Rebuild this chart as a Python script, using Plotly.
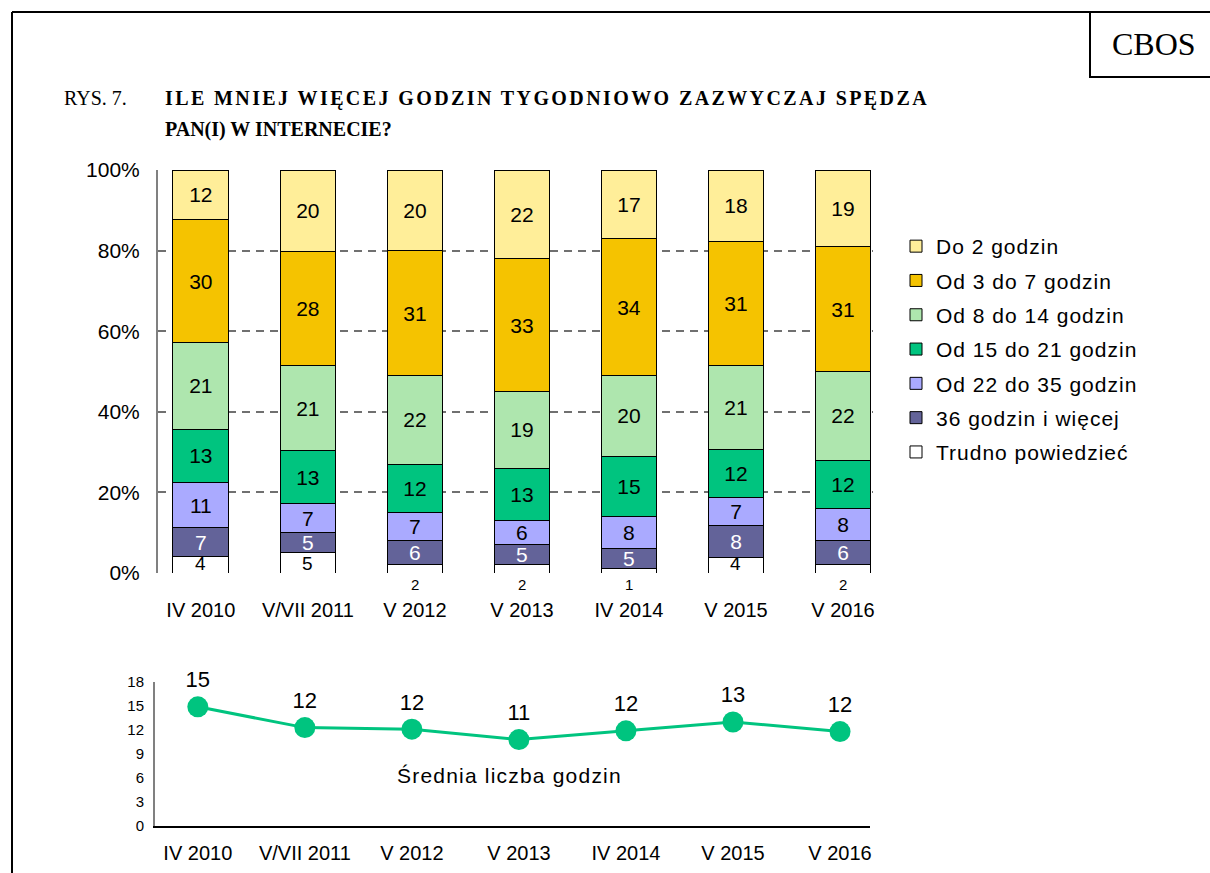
import plotly.graph_objects as go

categories = ["IV 2010", "V/VII 2011", "V 2012", "V 2013", "IV 2014", "V 2015", "V 2016"]

series_names = ["Trudno powiedzieć", "36 godzin i więcej", "Od 22 do 35 godzin",
                "Od 15 do 21 godzin", "Od 8 do 14 godzin", "Od 3 do 7 godzin", "Do 2 godzin"]
trudno = [4, 5, 2, 2, 1, 4, 2]
h36_plus = [7, 5, 6, 5, 5, 8, 6]
h22_35 = [11, 7, 7, 6, 8, 7, 8]
h15_21 = [13, 13, 12, 13, 15, 12, 12]
h8_14 = [21, 21, 22, 19, 20, 21, 22]
h3_7 = [30, 28, 31, 33, 34, 31, 31]
do2 = [12, 20, 20, 22, 17, 18, 19]

srednia = [14.9, 12.3, 12.1, 10.8, 11.9, 13.0, 11.8]

y_ticks = [0, 20, 40, 60, 80, 100]
y_ticks_line = [0, 3, 6, 9, 12, 15, 18]

series = [trudno, h36_plus, h22_35, h15_21, h8_14, h3_7, do2]
colors = ["#FFFFFF", "#636399", "#AAAAFF", "#00C47F", "#AEE6AE", "#F5C300", "#FFEE99"]
text_colors = ["black", "white", "black", "black", "black", "black", "black"]

FONT = "Liberation Sans, Arial, sans-serif"
SERIF = "Liberation Serif, Times New Roman, serif"
W, H = 1210, 873

def px_x(p):
    return p / W

def px_y(p):
    return 1 - p / H

def wide(s, ls):
    return f"<span style='letter-spacing:{ls}px'>{s}</span>"

fig = go.Figure()

for i, (name, vals) in enumerate(zip(series_names, series)):
    txt = None if i == 0 else [str(v) for v in vals]
    fig.add_trace(go.Bar(
        x=categories, y=vals, name=wide(name, 1),
        marker=dict(color=colors[i], line=dict(color="black", width=1)),
        text=txt, textposition="inside" if i else "none",
        insidetextanchor="middle", textangle=0,
        textfont=dict(family=FONT, size=21, color=text_colors[i]),
        constraintext="none",
        legendgroup=name, legendrank=100 - i, hoverinfo="skip",
        xaxis="x", yaxis="y",
    ))

# "Trudno powiedzieć" labels: inside the white segment, or under the bar when tiny
annotations = []
for c, v in zip(categories, trudno):
    if v >= 3:
        annotations.append(dict(x=c, y=0, xref="x", yref="y", text=str(v), showarrow=False,
                                yanchor="bottom", yshift=-2, borderpad=0,
                                font=dict(family=FONT, size=19, color="black")))
    else:
        annotations.append(dict(x=c, y=0, xref="x", yref="y", text=str(v), showarrow=False,
                                yanchor="top", yshift=-1,
                                font=dict(family=FONT, size=15, color="black")))

fig.add_trace(go.Scatter(
    x=categories, y=srednia, mode="lines+markers+text",
    line=dict(color="#00C47F", width=3),
    marker=dict(color="#00C47F", size=21),
    text=[str(round(v)) for v in srednia], textposition="top center",
    textfont=dict(family=FONT, size=22, color="black"),
    showlegend=False, hoverinfo="skip",
    xaxis="x2", yaxis="y2", cliponaxis=False,
))

annotations += [
    dict(x=px_x(509), y=px_y(775), xref="paper", yref="paper",
         text=wide("Średnia liczba godzin", 1.2),
         xanchor="center", yanchor="middle",
         showarrow=False, font=dict(family=FONT, size=21, color="black")),
    dict(x=px_x(62), y=px_y(98), xref="paper", yref="paper", text="RYS. 7.",
         xanchor="left", yanchor="middle",
         showarrow=False, font=dict(family=SERIF, size=20, color="black")),
    dict(x=px_x(163), y=px_y(98), xref="paper", yref="paper",
         text=wide("<b>ILE MNIEJ WIĘCEJ GODZIN TYGODNIOWO ZAZWYCZAJ SPĘDZA</b>", 2.4),
         xanchor="left", yanchor="middle",
         showarrow=False, font=dict(family=SERIF, size=20, color="black")),
    dict(x=px_x(163), y=px_y(129), xref="paper", yref="paper",
         text="<b>PAN(I) W INTERNECIE?</b>", xanchor="left", yanchor="middle",
         showarrow=False, font=dict(family=SERIF, size=20, color="black")),
    dict(x=px_x(1154), y=px_y(44), xref="paper", yref="paper", text="CBOS",
         xanchor="center", yanchor="middle",
         showarrow=False, font=dict(family=SERIF, size=32, color="black")),
]

shapes = [
    dict(type="line", xref="paper", yref="paper", x0=px_x(12), x1=1.01, y0=px_y(12), y1=px_y(12),
         line=dict(color="black", width=2)),
    dict(type="line", xref="paper", yref="paper", x0=px_x(12), x1=px_x(12), y0=px_y(12), y1=-0.01,
         line=dict(color="black", width=2)),
    dict(type="rect", xref="paper", yref="paper", x0=px_x(1090), x1=1.01, y0=px_y(77), y1=px_y(12),
         line=dict(color="black", width=2)),
]

xr = [-0.40, 6.28]
fig.update_layout(
    width=W, height=H, margin=dict(l=0, r=0, t=0, b=0, autoexpand=False),
    paper_bgcolor="white", plot_bgcolor="white",
    barmode="stack", barnorm="percent", bargap=0.48,
    font=dict(family=FONT, size=19, color="black"),
    uniformtext=dict(mode="show", minsize=21),
    showlegend=True,
    legend=dict(x=px_x(896), y=px_y(226), xanchor="left", yanchor="top",
                traceorder="grouped", tracegroupgap=4,
                font=dict(family=FONT, size=21, color="black"),
                bgcolor="rgba(0,0,0,0)", itemwidth=30),
    xaxis=dict(domain=[px_x(158), px_x(873)], range=xr, type="category",
               showline=False, showgrid=False, zeroline=False, automargin=False,
               ticks="outside", ticklen=19, tickcolor="rgba(0,0,0,0)",
               tickfont=dict(family=FONT, size=20), anchor="y"),
    yaxis=dict(domain=[px_y(573), px_y(170)], range=[0, 100],
               tickvals=y_ticks, ticktext=[f"{v}%" for v in y_ticks],
               showline=True, linecolor="#808080", linewidth=2, automargin=False,
               showgrid=True, gridcolor="#707070", griddash="8px,6px", gridwidth=1.5,
               zeroline=False, ticks="outside", ticklen=12, tickcolor="rgba(0,0,0,0)",
               tickfont=dict(family=FONT, size=21), anchor="x"),
    xaxis2=dict(domain=[px_x(155), px_x(870)], range=xr, type="category",
                showline=True, linecolor="black", linewidth=2, showgrid=False, zeroline=False,
                automargin=False,
                ticks="outside", ticklen=8, tickcolor="rgba(0,0,0,0)",
                tickfont=dict(family=FONT, size=20), anchor="y2"),
    yaxis2=dict(domain=[px_y(826), px_y(682)], range=[0, 18], tickvals=y_ticks_line,
                showline=True, linecolor="#808080", linewidth=2, showgrid=False, zeroline=False,
                automargin=False,
                ticks="outside", ticklen=6, tickcolor="rgba(0,0,0,0)",
                tickfont=dict(family=FONT, size=15), anchor="x2"),
    annotations=annotations, shapes=shapes,
)

fig.write_html("out.html", config={"displayModeBar": False},
               post_script="document.body.style.margin='0';")
